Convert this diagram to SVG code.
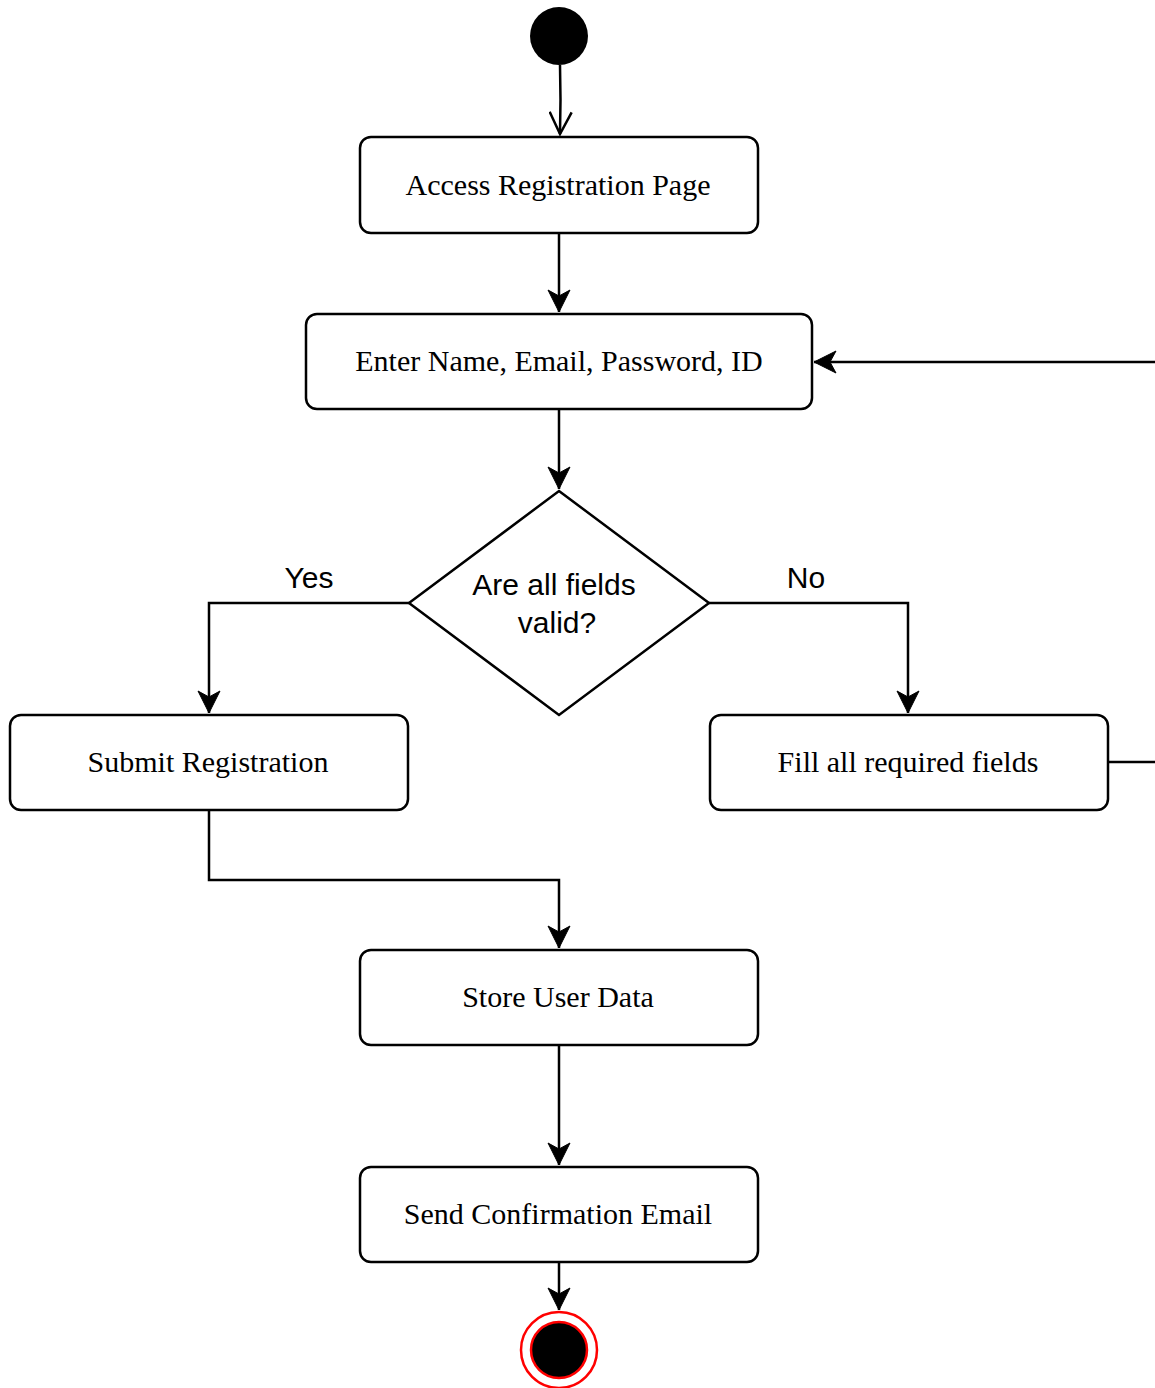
<svg xmlns="http://www.w3.org/2000/svg" width="1155" height="1388" viewBox="0 0 1155 1388">
<style>
.box{fill:#fff;stroke:#000;stroke-width:2.5}
.st{fill:#fff;stroke:#000;stroke-width:2.5}
.edge{fill:none;stroke:#000;stroke-width:2.5}
.serif{font-family:"Liberation Serif","Times New Roman",serif;font-size:30px;fill:#000;text-anchor:middle}
.sans{font-family:"Liberation Sans",Arial,sans-serif;font-size:30px;fill:#000;text-anchor:middle}
</style>
<defs>
<marker id="arr" markerUnits="userSpaceOnUse" markerWidth="26" markerHeight="24" viewBox="-24 -12 26 24" refX="0" refY="0" orient="auto">
<path d="M-22,-11 L0,0 L-22,11 L-16,0 Z" fill="#000" stroke="#000" stroke-width="1"/>
</marker>
<marker id="open" markerUnits="userSpaceOnUse" markerWidth="26" markerHeight="24" viewBox="-24 -12 26 24" refX="0" refY="0" orient="auto">
<path d="M-22,-11 L0,0 L-22,11" fill="none" stroke="#000" stroke-width="2.5"/>
</marker>
</defs>
<rect width="1155" height="1388" fill="#fff"/>
<g id="connectors">
<path class="edge" d="M560,65 Q561,100 560,134" marker-end="url(#open)"/>
<path class="edge" d="M559,233 L559,312" marker-end="url(#arr)"/>
<path class="edge" d="M1155,362 L814,362" marker-end="url(#arr)"/>
<path class="edge" d="M559,409 L559,489" marker-end="url(#arr)"/>
<path class="edge" d="M409,603 L209,603 L209,713" marker-end="url(#arr)"/>
<path class="edge" d="M709,603 L908,603 L908,713" marker-end="url(#arr)"/>
<path class="edge" d="M1108,762 L1155,762"/>
<path class="edge" d="M209,810 L209,880 L559,880 L559,948" marker-end="url(#arr)"/>
<path class="edge" d="M559,1045 L559,1165" marker-end="url(#arr)"/>
<path class="edge" d="M559,1262 L559,1310" marker-end="url(#arr)"/>
<text class="sans" x="309" y="588">Yes</text>
<text class="sans" x="806" y="588">No</text>
</g>
<g id="start"><circle cx="559" cy="36" r="29" fill="#000"/></g>
<g id="access"><rect class="box" x="360" y="137" width="398" height="96" rx="11"/><text class="serif" x="558" y="195">Access Registration Page</text></g>
<g id="enter"><rect class="box" x="306" y="314" width="506" height="95" rx="11"/><text class="serif" x="559" y="371">Enter Name, Email, Password, ID</text></g>
<g id="decision"><polygon class="st" points="559,491 709,603 559,715 409,603"/><text class="sans" x="554" y="595">Are all fields</text><text class="sans" x="557" y="633">valid?</text></g>
<g id="submit"><rect class="box" x="10" y="715" width="398" height="95" rx="11"/><text class="serif" x="208" y="772">Submit Registration</text></g>
<g id="fill"><rect class="box" x="710" y="715" width="398" height="95" rx="11"/><text class="serif" x="908" y="772">Fill all required fields</text></g>
<g id="store"><rect class="box" x="360" y="950" width="398" height="95" rx="11"/><text class="serif" x="558" y="1007">Store User Data</text></g>
<g id="send"><rect class="box" x="360" y="1167" width="398" height="95" rx="11"/><text class="serif" x="558" y="1224">Send Confirmation Email</text></g>
<g id="end"><circle cx="559" cy="1350" r="38" fill="#fff" stroke="#f00" stroke-width="2.5"/><circle cx="559" cy="1350" r="28" fill="#000" stroke="#f00" stroke-width="2.5"/></g>
</svg>
